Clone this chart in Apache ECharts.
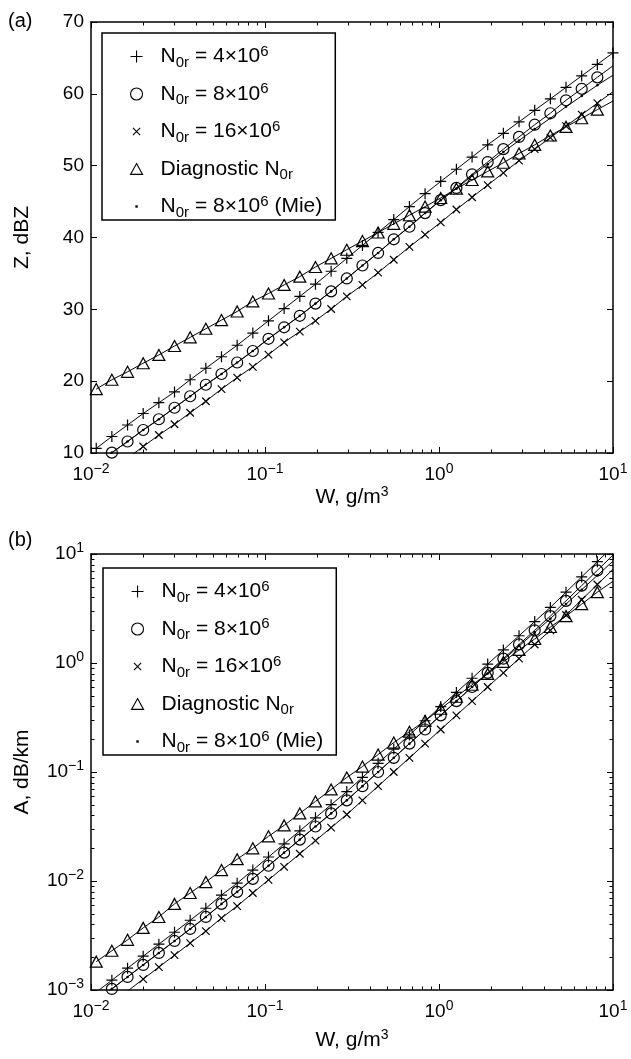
<!DOCTYPE html>
<html>
<head>
<meta charset="utf-8">
<title>Z and A versus W</title>
<script src="https://cdn.jsdelivr.net/npm/echarts@6.0.0/dist/echarts.min.js"></script>
<style>
    html, body { margin: 0; padding: 0; background: #fff; }
    #chart { width: 631px; height: 1059px; }
</style>
</head>
<body>
<div id="chart"></div>
<script>
// liquid water content, g/m3 (shared by every curve)
var W = [0.01072, 0.01318, 0.01622, 0.01995, 0.02455, 0.0302, 0.03715, 0.04571, 0.05623, 0.06918,
    0.08511, 0.1047, 0.1288, 0.1585, 0.195, 0.2399, 0.2951, 0.3631, 0.4467, 0.5495,
    0.6761, 0.8318, 1.023, 1.259, 1.549, 1.905, 2.344, 2.884, 3.548, 4.365,
    5.37, 6.607, 8.128, 10.0];

// (a) reflectivity, dBZ
var zPlus = [10.65, 12.3, 13.9, 15.5, 17.0, 18.5, 20.2, 21.8, 23.4, 25.0, 26.7, 28.4, 30.1, 31.8, 33.5,
    35.3, 37.1, 38.9, 40.7, 42.5, 44.3, 46.1, 47.8, 49.5, 51.2, 52.9, 54.5, 56.1, 57.7, 59.3, 60.9, 62.5, 64.1, 65.7];
var zCircle = [8.4, 10.05, 11.6, 13.2, 14.7, 16.3, 17.9, 19.5, 21.0, 22.6, 24.2, 25.9, 27.5, 29.1, 30.8,
    32.5, 34.3, 36.1, 37.85, 39.75, 41.5, 43.4, 45.2, 46.9, 48.8, 50.5, 52.3, 54.0, 55.7, 57.3, 59.1, 60.7, 62.3, 63.9];
var zCross = [6.0, 7.6, 9.3, 10.9, 12.5, 14.0, 15.6, 17.2, 18.9, 20.5, 22.0, 23.7, 25.4, 26.9, 28.4,
    30.05, 31.8, 33.4, 35.1, 36.9, 38.7, 40.4, 42.1, 43.9, 45.6, 47.3, 49.0, 50.7, 52.3, 53.9, 55.5, 57.1, 58.7, 60.3];
var zTri = [18.9, 20.2, 21.3, 22.5, 23.65, 24.9, 26.1, 27.3, 28.5, 29.7, 31.1, 32.2, 33.4, 34.55, 35.9,
    37.1, 38.3, 39.5, 40.7, 41.9, 43.1, 44.3, 45.5, 46.8, 48.0, 49.2, 50.4, 51.7, 52.9, 54.2, 55.4, 56.6, 57.8, 59.0];
var zMie = [8.4, 10.05, 11.6, 13.2, 14.7, 16.3, 17.9, 19.5, 21.0, 22.6, 24.2, 25.9, 27.5, 29.1, 30.8,
    32.5, 34.3, 36.1, 37.85, 39.75, 41.5, 43.4, 45.2, 46.8, 48.6, 50.2, 51.9, 53.5, 55.1, 56.6, 58.2, 59.7, 61.2, 62.6];

// (b) attenuation, dB/km
var aPlus = [0.000955, 0.00123, 0.001585, 0.002042, 0.00263, 0.003388, 0.004365, 0.005623, 0.007413, 0.00955,
    0.01259, 0.0166, 0.02188, 0.02884, 0.03802, 0.05012, 0.06607, 0.08913, 0.1202, 0.1622,
    0.2188, 0.2951, 0.3981, 0.537, 0.7244, 0.9772, 1.318, 1.778, 2.399, 3.236, 4.467, 6.166, 8.511, 11.75];
var aCircle = [0.000794, 0.001023, 0.001318, 0.001698, 0.002188, 0.002818, 0.003631, 0.004677, 0.006166, 0.007943,
    0.01047, 0.0138, 0.0182, 0.02399, 0.03162, 0.04169, 0.05495, 0.07413, 0.1, 0.1349,
    0.182, 0.2455, 0.3311, 0.4467, 0.6026, 0.8128, 1.096, 1.479, 1.995, 2.692, 3.715, 5.129, 7.079, 9.772];
var aCross = [0.000589, 0.000759, 0.000977, 0.001259, 0.001622, 0.002089, 0.002692, 0.003467, 0.004571, 0.005888,
    0.007762, 0.01023, 0.01349, 0.01778, 0.02344, 0.0309, 0.04074, 0.05495, 0.07413, 0.1,
    0.1349, 0.182, 0.2455, 0.3311, 0.4467, 0.6026, 0.8128, 1.096, 1.479, 1.995, 2.754, 3.802, 5.248, 7.244];
var aTri = [0.00182, 0.002291, 0.002884, 0.003715, 0.004677, 0.006166, 0.007762, 0.009772, 0.01259, 0.01585,
    0.01995, 0.0257, 0.03236, 0.04169, 0.0537, 0.06918, 0.08913, 0.1122, 0.1445, 0.1862,
    0.2344, 0.2951, 0.3802, 0.4898, 0.631, 0.7943, 1.023, 1.318, 1.66, 2.138, 2.692, 3.467, 4.467, 5.623];
var aMie = [0.000794, 0.001023, 0.001318, 0.001698, 0.002188, 0.002818, 0.003631, 0.004677, 0.006166, 0.007943,
    0.01047, 0.0138, 0.0182, 0.02399, 0.03162, 0.04169, 0.05495, 0.07413, 0.1, 0.1349,
    0.182, 0.2455, 0.3311, 0.4467, 0.6026, 0.80, 1.07, 1.43, 1.91, 2.55, 3.47, 4.70, 6.36, 8.6];

// index of the last plotted marker (the fitted lines run to the frame)
var lastMarker = {plus: 33, circle: 32, cross: 32, tri: 32, mie: 32};

// log-axis minor tick values
var minorW = [0.02, 0.03, 0.04, 0.05, 0.06, 0.07, 0.08, 0.09, 0.2, 0.3, 0.4, 0.5, 0.6, 0.7, 0.8, 0.9,
    2, 3, 4, 5, 6, 7, 8, 9];
var minorA = [0.002, 0.003, 0.004, 0.005, 0.006, 0.007, 0.008, 0.009, 0.02, 0.03, 0.04, 0.05, 0.06, 0.07, 0.08, 0.09,
    0.2, 0.3, 0.4, 0.5, 0.6, 0.7, 0.8, 0.9, 2, 3, 4, 5, 6, 7, 8, 9];

var seriesNames = ['plus', 'circle', 'cross', 'tri', 'mie'];
var legendText = {
    plus: 'N{sub|0r} = 4×10{sup|6}',
    circle: 'N{sub|0r} = 8×10{sup|6}',
    cross: 'N{sub|0r} = 16×10{sup|6}',
    tri: 'Diagnostic N{sub|0r}',
    mie: 'N{sub|0r} = 8×10{sup|6} (Mie)'
};

var FONT = 'Liberation Sans';
var markerStyle = {
    plus: {symbol: 'path://M5,0L5,10M0,5L10,5', size: 11, color: 'transparent'},
    circle: {symbol: 'circle', size: 11, color: 'transparent'},
    cross: {symbol: 'path://M0,0L10,10M10,0L0,10', size: 7.5, color: 'transparent'},
    tri: {symbol: 'path://M5,0L10,9L0,9Z', size: [12, 11], color: 'transparent'},
    mie: {symbol: 'circle', size: 2.6, color: '#000'}
};
// legend icons: the leading moves pin a 10x10 box so small glyphs keep their size
var legendIcon = {
    plus: 'path://M5,0L5,10M0,5L10,5',
    circle: 'circle',
    cross: 'path://M0,0M10,10M2,2L8,8M8,2L2,8',
    tri: 'path://M0,0M10,10M5,0.5L10,9.5L0,9.5Z',
    mie: 'path://M0,0M10,10M4,4L6,4L6,6L4,6Z'
};

function pairs(ys, count) {
    var out = [];
    var n = count == null ? ys.length : count;
    for (var i = 0; i < n; i++) {
        out.push([W[i], ys[i]]);
    }
    return out;
}

function powLabel(v) {
    var e = Math.round(Math.log(v) / Math.LN10);
    return '10{sup|' + (e < 0 ? '\u2212' + (-e) : e) + '}';
}

var tickRich = {sup: {fontSize: 14, fontFamily: FONT, color: '#000', padding: [0, 0, 11, 0]}};

function xAxes(grid, nameGap) {
    var base = {
        type: 'log', logBase: 10, min: 0.01, max: 10, gridIndex: grid,
        axisLine: {show: true, lineStyle: {color: '#000', width: 1.5}},
        axisTick: {show: true, inside: true, length: 6, lineStyle: {color: '#000', width: 1}},
        splitLine: {show: false}
    };
    var bottom = echarts.util.merge({
        position: 'bottom',
        axisLabel: {fontSize: 19, fontFamily: FONT, color: '#000', margin: 9, formatter: powLabel, rich: tickRich},
        name: 'W, g/m{sup|3}', nameLocation: 'middle', nameGap: nameGap,
        nameTextStyle: {fontSize: 21, fontFamily: FONT, color: '#000',
            rich: {sup: {fontSize: 14, fontFamily: FONT, color: '#000', padding: [0, 0, 11, 0]}}}
    }, base, true);
    var top = echarts.util.merge({position: 'top', axisLabel: {show: false}}, base, true);
    return [bottom, top];
}

function yAxes(grid, opt) {
    var base = echarts.util.merge({
        gridIndex: grid,
        axisLine: {show: true, lineStyle: {color: '#000', width: 1.5}},
        axisTick: {show: true, inside: true, length: 6, lineStyle: {color: '#000', width: 1}},
        splitLine: {show: false}
    }, opt, true);
    var left = echarts.util.merge({
        position: 'left',
        axisLabel: {fontSize: 19, fontFamily: FONT, color: '#000', margin: 7, rich: tickRich},
        nameLocation: 'middle', nameGap: 58,
        nameTextStyle: {fontSize: 21, fontFamily: FONT, color: '#000'}
    }, base, true);
    if (opt.type === 'log') left.axisLabel.formatter = powLabel;
    var right = echarts.util.merge({position: 'right', axisLabel: {show: false}}, base, true);
    right.name = '';
    return [left, right];
}

// minor ticks for log axes, placed through the axis scales
function minorXTicks(params, api) {
    var cs = params.coordSys;
    var x = Math.round(api.coord([api.value(0), api.value(1)])[0]) + 0.5;
    var b = cs.y + cs.height;
    return {
        type: 'group', children: [
            {type: 'line', shape: {x1: x, y1: b, x2: x, y2: b - 3.5}, style: {stroke: '#000', lineWidth: 1}},
            {type: 'line', shape: {x1: x, y1: cs.y, x2: x, y2: cs.y + 3.5}, style: {stroke: '#000', lineWidth: 1}}
        ]
    };
}

function minorYTicks(params, api) {
    var cs = params.coordSys;
    var y = Math.round(api.coord([api.value(0), api.value(1)])[1]) + 0.5;
    var r = cs.x + cs.width;
    return {
        type: 'group', children: [
            {type: 'line', shape: {x1: cs.x, y1: y, x2: cs.x + 3.5, y2: y}, style: {stroke: '#000', lineWidth: 1}},
            {type: 'line', shape: {x1: r, y1: y, x2: r - 3.5, y2: y}, style: {stroke: '#000', lineWidth: 1}}
        ]
    };
}

function eachItem(arr, fn) {
    for (var i = 0; i < arr.length; i++) fn(arr[i], i);
}

function panelSeries(grid, data) {
    var list = [];
    var xi = grid * 2, yi = grid * 2;
    eachItem(seriesNames, function (key) {
        list.push({
            name: key + '-line', type: 'line', xAxisIndex: xi, yAxisIndex: yi,
            data: pairs(data[key]), symbol: 'none', clip: true, silent: true, z: 2,
            lineStyle: {color: '#000', width: 1}
        });
    });
    eachItem(seriesNames, function (key) {
        var m = markerStyle[key];
        list.push({
            name: key, type: 'scatter', xAxisIndex: xi, yAxisIndex: yi,
            data: pairs(data[key], lastMarker[key] + 1), clip: true, silent: true, z: 3,
            symbol: m.symbol, symbolSize: m.size,
            itemStyle: {color: m.color, borderColor: '#000', borderWidth: key === 'mie' ? 0 : 1.2, opacity: 1}
        });
    });
    list.push({
        type: 'custom', xAxisIndex: xi, yAxisIndex: yi, silent: true, z: 4,
        renderItem: minorXTicks,
        data: minorW.map(function (v) { return [v, grid === 0 ? 40 : 0.1]; })
    });
    if (grid === 1) {
        list.push({
            type: 'custom', xAxisIndex: xi, yAxisIndex: yi, silent: true, z: 4,
            renderItem: minorYTicks,
            data: minorA.map(function (v) { return [1, v]; })
        });
    }
    return list;
}

function legendFor(left, top) {
    return {
        orient: 'vertical', left: left, top: top,
        selectedMode: false,
        backgroundColor: '#fff',
        borderColor: '#000', borderWidth: 1.5, borderRadius: 0,
        padding: [10, 13, 0, 28],
        itemWidth: 38, itemHeight: 12, itemGap: 10.5,
        itemStyle: {borderWidth: 1},
        data: seriesNames.map(function (key) {
            return {
                name: key, icon: legendIcon[key],
                itemStyle: {color: markerStyle[key].color, borderColor: '#000', borderWidth: key === 'mie' ? 0 : 1.1}
            };
        }),
        formatter: function (name) { return legendText[name]; },
        textStyle: {
            fontSize: 21, fontFamily: FONT, color: '#000', lineHeight: 22,
            rich: {
                sub: {fontSize: 15, fontFamily: FONT, color: '#000', lineHeight: 15, padding: [12, 0, 0, 0]},
                sup: {fontSize: 15, fontFamily: FONT, color: '#000', lineHeight: 15, padding: [0, 0, 10, 0]}
            }
        }
    };
}

var topData = {plus: zPlus, circle: zCircle, cross: zCross, tri: zTri, mie: zMie};
var botData = {plus: aPlus, circle: aCircle, cross: aCross, tri: aTri, mie: aMie};

var xa = xAxes(0, 29).concat(xAxes(1, 38));
var ya = yAxes(0, {type: 'value', min: 10, max: 70, interval: 10, name: 'Z, dBZ'})
    .concat(yAxes(1, {type: 'log', logBase: 10, min: 0.001, max: 10, name: 'A, dB/km'}));

var option = {
    backgroundColor: '#fff',
    animation: false,
    grid: [
        {left: 91, top: 22, width: 522, height: 431},
        {left: 91, top: 554, width: 522, height: 436}
    ],
    xAxis: xa,
    yAxis: ya,
    legend: [legendFor(102, 33), legendFor(103, 568)],
    graphic: [
        {type: 'text', left: 8, top: 11, style: {text: '(a)', fontSize: 20, fontFamily: FONT, fill: '#000'}},
        {type: 'text', left: 8, top: 530, style: {text: '(b)', fontSize: 20, fontFamily: FONT, fill: '#000'}}
    ],
    series: panelSeries(0, topData).concat(panelSeries(1, botData))
};

var myChart = echarts.init(document.getElementById('chart'), null, {renderer: 'canvas'});
myChart.setOption(option);
</script>
</body>
</html>
